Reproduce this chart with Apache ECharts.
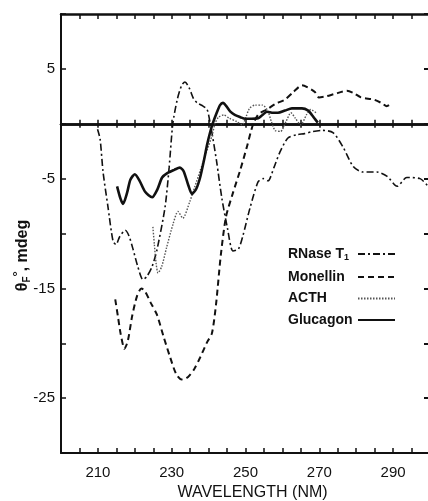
<!DOCTYPE html>
<html>
<head>
<meta charset="utf-8">
<script src="https://cdn.jsdelivr.net/npm/echarts@6/dist/echarts.min.js"></script>
<style>
  html, body { margin: 0; padding: 0; background: #fff; }
  #chart { width: 428px; height: 501px; }
</style>
</head>
<body>
<div id="chart"></div>
<script>
// wavelength (nm), theta_F (mdeg)
const rnase = [[209.9,-0.5],[210.6,-1.4],[211.4,-4.4],[212.7,-7.5],[214.1,-10.7],[214.9,-11],[215.9,-10.3],[217.4,-9.7],[218.4,-10.2],[219.5,-11.4],[220.8,-13],[222.2,-14.2],[223.3,-13.9],[224.7,-13.0],[226,-11.5],[228.2,-7.6],[229.3,-4],[230.3,0],[231.5,2.2],[232.7,3.5],[233.6,3.8],[234.7,3.3],[235.9,2.3],[236.9,1.9],[238.5,1.6],[239.6,1.3],[240.4,0.1],[241.2,-1.4],[242.2,-3.5],[243.6,-6.8],[245.1,-9.5],[246.6,-11.6],[248.1,-11.4],[249.3,-10.2],[251.2,-7.7],[253.4,-5.3],[254.8,-5.0],[256.1,-5.2],[257.7,-4.0],[259.3,-2.6],[261.5,-1.3],[264,-1.0],[266,-0.9],[268.3,-0.7],[270.9,-0.6],[273.7,-0.8],[276.4,-2.1],[279.2,-3.9],[281.8,-4.4],[285.6,-4.4],[288.4,-4.8],[291.1,-5.7],[293.7,-4.9],[297.3,-5.0],[299.5,-5.7]];
const monellin = [[214.7,-16.0],[215.4,-17.5],[216.2,-19.2],[217.2,-20.5],[218.1,-19.8],[219.3,-17.5],[220.6,-15.7],[221.8,-15.0],[222.8,-15.3],[224.3,-16.3],[226,-17.4],[227.8,-19.4],[229.6,-21.3],[231.2,-22.8],[232.7,-23.3],[233.9,-23.2],[234.9,-22.9],[236.2,-22.3],[237.7,-21.3],[239.6,-19.9],[240.9,-19.1],[242,-16.5],[243.3,-12.0],[244.7,-8.5],[246.6,-6.3],[248.5,-4.3],[250.3,-2.2],[252.1,0],[253.6,0.9],[255.8,1.3],[258,1.8],[260.7,2.2],[263,2.9],[265.3,3.5],[266.9,3.3],[268.8,2.9],[269.9,2.4],[271.9,2.5],[274,2.7],[277.5,3.0],[279.3,2.8],[281.3,2.4],[284.8,2.2],[286.8,1.9],[288.3,1.6],[289.8,1.9]];
const acth = [[224.9,-9.4],[225.3,-11],[225.8,-12.8],[226.3,-13.6],[227.3,-13.0],[228.6,-11.3],[230.4,-9.1],[231.7,-8.0],[233,-8.6],[234.9,-7.1],[236.3,-5.7],[237.7,-4.3],[239.2,-2.8],[241,-1.0],[241.7,0],[242.7,0.6],[244.1,0.8],[245.6,0.5],[247.6,0.2],[249.1,-0.1],[250.1,0.6],[251.1,1.4],[252.6,1.7],[254.6,1.7],[256,1.2],[257,0.2],[258,-0.6],[259.5,-0.7],[261,0.2],[262.3,1.0],[263.5,0.5],[265,-0.1],[266.5,0.8],[267.7,1.3],[269.1,1.0]];
const glucagon = [[215.2,-5.7],[216.1,-6.8],[216.8,-7.3],[217.9,-6.3],[218.8,-5.1],[220,-4.6],[221.3,-5.2],[222.8,-6.2],[224.7,-6.7],[226.1,-6.0],[227.4,-4.9],[228.8,-4.5],[230.7,-4.2],[232.2,-4.0],[233.2,-4.3],[234.5,-5.6],[235.5,-6.4],[236.7,-5.9],[237.7,-4.9],[238.7,-3.4],[239.6,-1.9],[240.4,-0.8],[241.2,0.1],[242.2,1.0],[243.1,1.7],[243.9,1.9],[244.8,1.6],[245.9,1.1],[247.1,0.8],[248.6,0.6],[249.9,0.45],[251.6,0.45],[253.4,0.5],[254.6,0.8],[255.8,1.1],[257.5,1.0],[258.8,1.0],[260.7,1.2],[262.6,1.4],[265.3,1.4],[267,1.2],[268,0.8],[268.9,0.4],[269.6,0.1]];

const xLabels = [210, 230, 250, 270, 290];
const yLabels = [5, -5, -15, -25];
const names = ['RNase T1', 'Monellin', 'ACTH', 'Glucagon'];

const font = 'Liberation Sans, Arial, sans-serif';
const black = '#111';

// shared bits for the frame axes
const xBase = { type: 'value', min: 200, max: 300, interval: 5, splitLine: { show: false } };
const yBase = { type: 'value', min: -30, max: 10, interval: 5, splitLine: { show: false } };

let chart = echarts.init(document.getElementById('chart'));
let option = {
  animation: false,
  grid: { left: 61, right: -2, top: 14, bottom: 48, outerBoundsMode: 'none' },
  legend: {
    data: names,
    orient: 'vertical',
    left: 283,
    top: 242,
    align: 'right',
    itemWidth: 37,
    itemHeight: 14,
    itemGap: 7.5,
    itemStyle: { opacity: 0 },
    formatter: function (n) {
      return n === 'RNase T1' ? '{r|RNase T}{sub|1}' : '{t|' + n + '}';
    },
    textStyle: {
      color: black,
      fontFamily: font,
      fontWeight: 'bold',
      fontSize: 14,
      rich: {
        t: { fontFamily: font, fontWeight: 'bold', fontSize: 14, color: black, width: 65, align: 'left' },
        r: { fontFamily: font, fontWeight: 'bold', fontSize: 14, color: black, width: 56, align: 'left' },
        sub: { fontFamily: font, fontWeight: 'bold', fontSize: 9, color: black, width: 9, align: 'left', padding: [8, 0, 0, 0] }
      }
    }
  },
  xAxis: [
    Object.assign({}, xBase, {
      position: 'bottom',
      name: 'WAVELENGTH (NM)',
      nameLocation: 'middle',
      nameGap: 31,
      nameTextStyle: { color: black, fontFamily: font, fontSize: 16, padding: [0, 0, 0, 14] },
      axisLine: { onZero: false, lineStyle: { color: black, width: 2 } },
      axisTick: { inside: true, length: 5, lineStyle: { color: black, width: 1.5 } },
      axisLabel: {
        color: black, fontFamily: font, fontSize: 15, margin: 12,
        formatter: function (v) { return xLabels.includes(v) ? v : ''; }
      }
    }),
    Object.assign({}, xBase, {
      position: 'top',
      axisLine: { onZero: false, lineStyle: { color: black, width: 2.5 } },
      axisTick: { inside: true, length: 5, lineStyle: { color: black, width: 1.5 } },
      axisLabel: { show: false }
    }),
    // zero line, ticks on both sides
    Object.assign({}, xBase, {
      position: 'bottom',
      axisLine: { onZero: true, onZeroAxisIndex: 0, lineStyle: { color: black, width: 2.5 } },
      axisTick: { inside: true, length: 4, lineStyle: { color: black, width: 1.5 } },
      axisLabel: { show: false }
    }),
    Object.assign({}, xBase, {
      position: 'bottom',
      axisLine: { onZero: true, onZeroAxisIndex: 0, lineStyle: { color: black, width: 2.5 } },
      axisTick: { inside: false, length: 4, lineStyle: { color: black, width: 1.5 } },
      axisLabel: { show: false }
    })
  ],
  yAxis: [
    Object.assign({}, yBase, {
      position: 'left',
      name: '{t|θ}{sub|F}{sup|°}{t|, mdeg}',
      nameLocation: 'middle',
      nameRotate: 90,
      nameGap: 28,
      nameMoveOverlap: false,
      nameTextStyle: {
        padding: [0, 44, 0, 0],
        rich: {
          t: { fontFamily: font, fontWeight: 'bold', fontSize: 16, color: black },
          sub: { fontFamily: font, fontWeight: 'bold', fontSize: 10, color: black, padding: [9, 0, 0, 0] },
          sup: { fontFamily: font, fontWeight: 'bold', fontSize: 13, color: black, padding: [0, 0, 8, 0] }
        }
      },
      axisLine: { onZero: false, lineStyle: { color: black, width: 2 } },
      axisTick: { inside: true, length: 5, lineStyle: { color: black, width: 1.5 } },
      axisLabel: {
        color: black, fontFamily: font, fontSize: 15, margin: 6,
        formatter: function (v) { return yLabels.includes(v) ? v : ''; }
      }
    }),
    Object.assign({}, yBase, {
      position: 'right',
      axisLine: { show: false, onZero: false },
      axisTick: { show: true, inside: true, length: 6, lineStyle: { color: black, width: 2 } },
      axisLabel: { show: false }
    })
  ],
  series: [
    {
      name: 'RNase T1', type: 'line', data: rnase, symbol: 'none', smooth: 0.25,
      lineStyle: { color: black, width: 1.6, type: [7, 3, 2, 3] }, itemStyle: { color: black }
    },
    {
      name: 'Monellin', type: 'line', data: monellin, symbol: 'none', smooth: 0.25,
      lineStyle: { color: black, width: 2, type: [6, 4] }, itemStyle: { color: black }
    },
    {
      name: 'ACTH', type: 'line', data: acth, symbol: 'none', smooth: 0.25,
      lineStyle: { color: '#555', width: 1.4, type: [1.5, 1.5] }, itemStyle: { color: '#555' }
    },
    {
      name: 'Glucagon', type: 'line', data: glucagon, symbol: 'none', smooth: 0.25,
      lineStyle: { color: black, width: 2.6, type: 'solid' }, itemStyle: { color: black }
    }
  ]
};
chart.setOption(option);
</script>
</body>
</html>
